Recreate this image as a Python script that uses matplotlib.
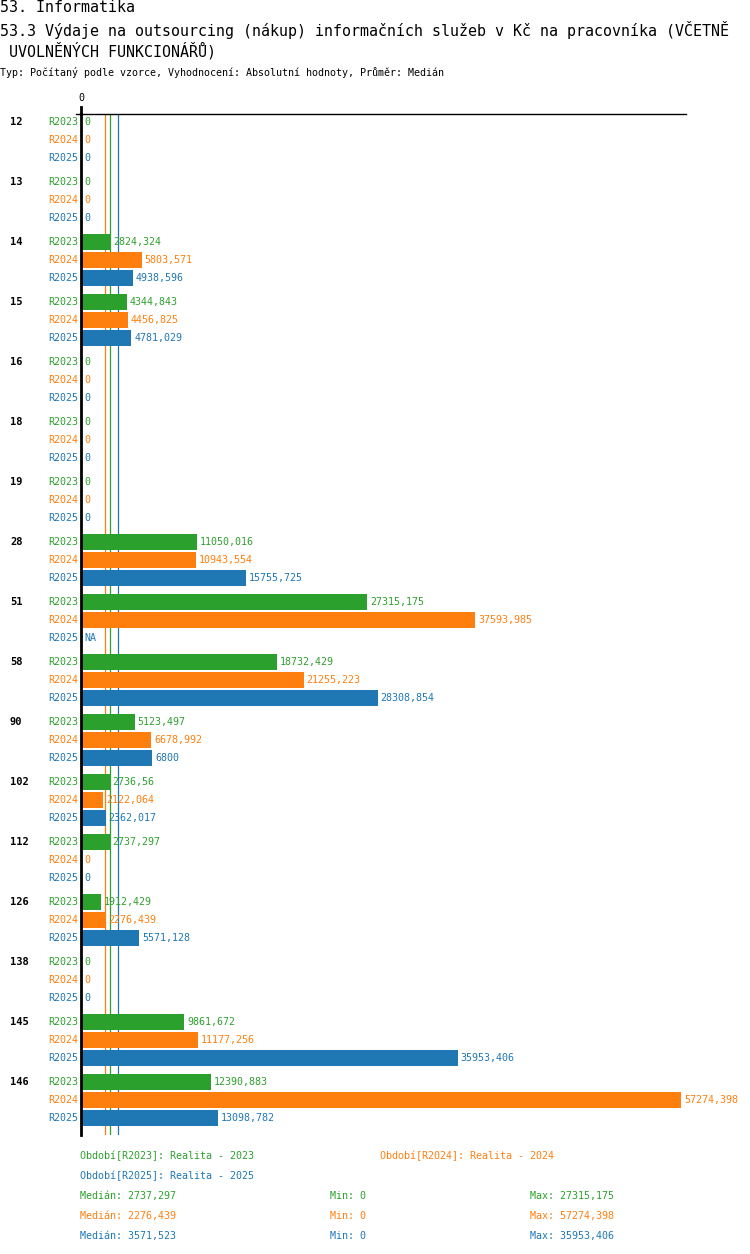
import numpy as np
import matplotlib
matplotlib.use('Agg')
import matplotlib.pyplot as plt

plt.rcParams['font.family'] = ['DejaVu Sans Mono']

# kategorie (skupiny)
groups = ['12', '13', '14', '15', '16', '18', '19', '28', '51', '58',
          '90', '102', '112', '126', '138', '145', '146']
periods = ['R2023', 'R2024', 'R2025']
period_names = ['Realita - 2023', 'Realita - 2024', 'Realita - 2025']
colors = ['#2ca02c', '#ff7f0e', '#1f77b4']

r2023 = [0, 0, 2824.324, 4344.843, 0, 0, 0, 11050.016, 27315.175, 18732.429,
         5123.497, 2736.56, 2737.297, 1912.429, 0, 9861.672, 12390.883]
r2024 = [0, 0, 5803.571, 4456.825, 0, 0, 0, 10943.554, 37593.985, 21255.223,
         6678.992, 2122.064, 0, 2276.439, 0, 11177.256, 57274.398]
r2025 = [0, 0, 4938.596, 4781.029, 0, 0, 0, 15755.725, np.nan, 28308.854,
         6800, 2362.017, 0, 5571.128, 0, 35953.406, 13098.782]
series = [r2023, r2024, r2025]

W, H = 750, 1254
fig = plt.figure(figsize=(W / 100, H / 100), dpi=100)


def fmt(v):
    if np.isnan(v):
        return 'NA'
    s = ('%.3f' % v).rstrip('0').rstrip('.')
    return s.replace('.', ',')


def ftext(x, y, s, **kw):
    fig.text(x / W, 1 - y / H, s, va='center', **kw)


# nadpisy
ftext(0, 8, '53. Informatika', fontsize=10.8)
ftext(0, 30, '53.3 Výdaje na outsourcing (nákup) informačních služeb v Kč na pracovníka (VČETNĚ', fontsize=10.8)
ftext(0, 51, ' UVOLNĚNÝCH FUNKCIONÁŘŮ)', fontsize=10.8)
ftext(0, 73, 'Typ: Počítaný podle vzorce, Vyhodnocení: Absolutní hodnoty, Průměr: Medián', fontsize=7.2)

# osa s grafem (pixely: x 81..681, y 114..1135)
top_px, bot_px, first_px = 114, 1135, 122
row_px, group_px = 18, 60
ax = fig.add_axes([81 / W, (H - bot_px) / H, 600 / W, (bot_px - top_px) / H])
vmax = np.nanmax(np.array(series))
ax.set_xlim(0, vmax)
ax.set_ylim((bot_px - first_px) / row_px, (top_px - first_px) / row_px)

gpitch = group_px / row_px
for j, (vals, c, p) in enumerate(zip(series, colors, periods)):
    vals = np.array(vals, dtype=float)
    ys = np.arange(len(groups)) * gpitch + j
    ax.barh(ys, np.nan_to_num(vals), height=16 / 18, color=c, zorder=3)
    for y, v in zip(ys, vals):
        ax.annotate(fmt(v), xy=(0 if np.isnan(v) else v, y), xytext=(3, 0),
                    textcoords='offset pixels', va='center', ha='left',
                    fontsize=7.2, color=c, annotation_clip=False)
        ax.annotate(p, xy=(0, y), xytext=(-3, 0), textcoords='offset pixels',
                    va='center', ha='right', fontsize=7.2, color=c,
                    annotation_clip=False)
    # medián
    ax.axvline(np.nanmedian(vals), color=c, lw=0.9, zorder=1)

for i, g in enumerate(groups):
    ax.annotate(g, xy=(0, i * gpitch), xytext=(-71, 0), textcoords='offset pixels',
                va='center', ha='left', fontsize=7.5, fontweight='bold',
                annotation_clip=False)

for s in ['right', 'bottom', 'top']:
    ax.spines[s].set_visible(False)
ax.spines['left'].set_linewidth(2)
ax.spines['left'].set_zorder(4)
ax.plot([-0.008, 1.008], [1, 1], color='black', lw=1, transform=ax.transAxes,
        clip_on=False, zorder=4)
ax.plot([0, 0], [1, 1.007], color='black', lw=2, transform=ax.transAxes,
        clip_on=False, zorder=4)
ax.set_yticks([])
ax.set_xticks([])
ax.text(0, 1.011, '0', transform=ax.transAxes, ha='center', va='bottom', fontsize=7.2)

# legenda a statistiky
ftext(80, 1156, 'Období[%s]: %s' % (periods[0], period_names[0]), fontsize=7.2, color=colors[0])
ftext(380, 1156, 'Období[%s]: %s' % (periods[1], period_names[1]), fontsize=7.2, color=colors[1])
ftext(80, 1176, 'Období[%s]: %s' % (periods[2], period_names[2]), fontsize=7.2, color=colors[2])
for k, (vals, c) in enumerate(zip(series, colors)):
    vals = np.array(vals, dtype=float)
    y = 1196 + 20 * k
    ftext(80, y, 'Medián: ' + fmt(np.nanmedian(vals)), fontsize=7.2, color=c)
    ftext(330, y, 'Min: ' + fmt(np.nanmin(vals)), fontsize=7.2, color=c)
    ftext(530, y, 'Max: ' + fmt(np.nanmax(vals)), fontsize=7.2, color=c)

fig.savefig('out.png', dpi=100)
